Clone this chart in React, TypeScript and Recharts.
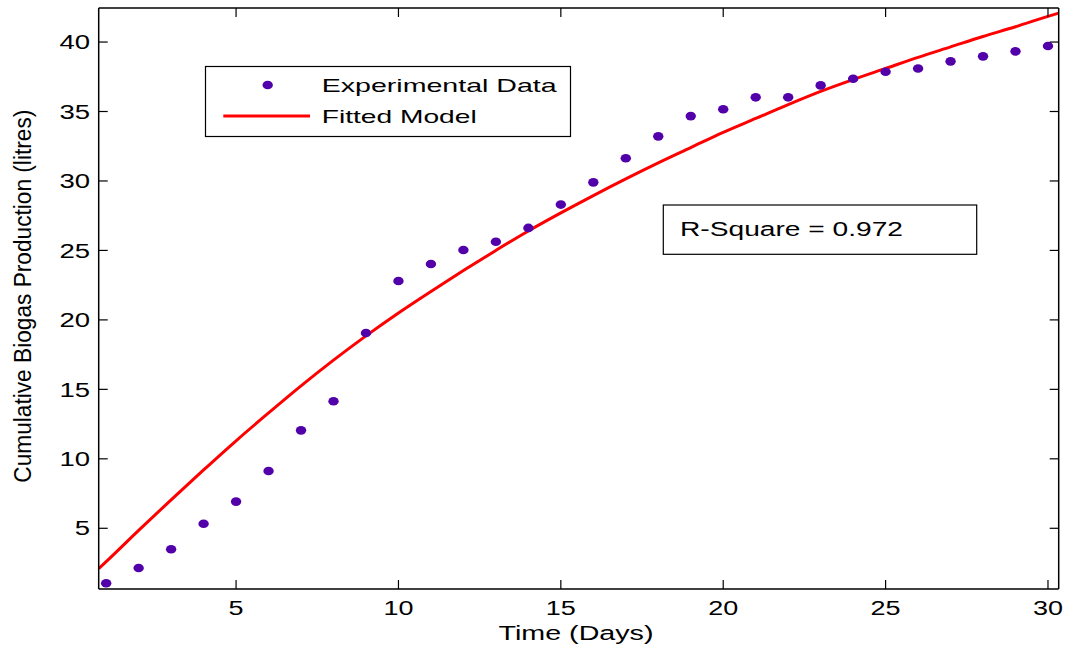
import React from 'react';
import { ComposedChart, Scatter, Line, XAxis, YAxis, Legend, Customized } from 'recharts';

const days = [1, 2, 3, 4, 5, 6, 7, 8, 9, 10, 11, 12, 13, 14, 15, 16, 17, 18, 19, 20, 21, 22, 23, 24, 25, 26, 27, 28, 29, 30];
const experimentalValues = [1.04, 2.14, 3.49, 5.33, 6.92, 9.12, 12.05, 14.14, 19.06, 22.8, 24.02, 25.03, 25.63, 26.62, 28.3, 29.9, 31.63, 33.21, 34.67, 35.16, 36.02, 36.02, 36.88, 37.36, 37.86, 38.1, 38.61, 38.97, 39.33, 39.71];

const fitDays = [0.77, 1, 2, 3, 4, 5, 6, 7, 8, 9, 10, 11, 12, 13, 14, 15, 16, 17, 18, 19, 20, 21, 22, 23, 24, 25, 26, 27, 28, 29, 30, 30.33];
const fitValues = [2.1, 2.6, 4.85, 7.05, 9.2, 11.3, 13.3, 15.25, 17.1, 18.85, 20.5, 22.05, 23.55, 25.0, 26.4, 27.7, 28.95, 30.15, 31.3, 32.4, 33.5, 34.5, 35.5, 36.45, 37.3, 38.1, 38.9, 39.65, 40.4, 41.1, 41.85, 42.08];

const xTicks = [5, 10, 15, 20, 25, 30];
const yTicks = [5, 10, 15, 20, 25, 30, 35, 40];

const experimentalData = days.map((d, i) => ({ x: d, y: experimentalValues[i] }));
const fitData = fitDays.map((d, i) => ({ x: d, y: fitValues[i] }));

const FONT = '"Liberation Sans", Arial, Helvetica, sans-serif';
const TICK_LEN = 9;
const DOT_COLOR = '#5200aa';
const LINE_COLOR = '#ff0000';

const BottomTick = (props: any) => {
  const { x, y, payload } = props;
  const label = String(payload.value);
  return (
    <g>
      <line x1={x} x2={x} y1={y} y2={y - TICK_LEN} stroke="#000" strokeWidth={1.2} />
      <text x={x} y={y + 26} textAnchor="middle" fontSize={20.5} fontFamily={FONT} fill="#000"
        textLength={15 * label.length} lengthAdjust="spacingAndGlyphs">{label}</text>
    </g>
  );
};

const TopTick = (props: any) => {
  const { x, y } = props;
  return <line x1={x} x2={x} y1={y} y2={y + TICK_LEN} stroke="#000" strokeWidth={1.2} />;
};

const LeftTick = (props: any) => {
  const { x, y, payload } = props;
  const label = String(payload.value);
  return (
    <g>
      <line x1={x} x2={x + TICK_LEN} y1={y} y2={y} stroke="#000" strokeWidth={1.2} />
      <text x={x - 8.7} y={y + 7.2} textAnchor="end" fontSize={20} fontFamily={FONT} fill="#000"
        textLength={15.3 * label.length} lengthAdjust="spacingAndGlyphs">{label}</text>
    </g>
  );
};

const RightTick = (props: any) => {
  const { x, y } = props;
  return <line x1={x} x2={x - TICK_LEN} y1={y} y2={y} stroke="#000" strokeWidth={1.2} />;
};

const DotShape = (props: any) => {
  const { cx, cy } = props;
  if (cx == null || cy == null) return null;
  return <ellipse cx={cx} cy={cy} rx={5.2} ry={4.3} fill={DOT_COLOR} />;
};

const LegendBox = () => (
  <svg width={366} height={71} style={{ display: 'block', overflow: 'visible' }}>
    <rect x={0.5} y={0.5} width={365} height={70} fill="#fff" stroke="#000" strokeWidth={1.2} />
    <ellipse cx={62.7} cy={19} rx={5.2} ry={4.3} fill={DOT_COLOR} />
    <text x={116.7} y={25.6} fontSize={18.5} fontFamily={FONT} fill="#000" textLength={235} lengthAdjust="spacingAndGlyphs">Experimental Data</text>
    <line x1={18.3} x2={105} y1={50} y2={50} stroke={LINE_COLOR} strokeWidth={3} />
    <text x={116.7} y={56.6} fontSize={18.5} fontFamily={FONT} fill="#000" textLength={155} lengthAdjust="spacingAndGlyphs">Fitted Model</text>
  </svg>
);

const Annotations = () => (
  <g>
    <rect x={663.3} y={205} width={313.4} height={49.3} fill="#fff" stroke="#000" strokeWidth={1.2} />
    <text x={680} y={235.7} fontSize={20.5} fontFamily={FONT} fill="#000" textLength={223} lengthAdjust="spacingAndGlyphs">R-Square = 0.972</text>
    <text x={576} y={640} textAnchor="middle" fontSize={20.5} fontFamily={FONT} fill="#000" textLength={155} lengthAdjust="spacingAndGlyphs">Time (Days)</text>
    <text transform="translate(30.7,296.2) rotate(-90)" textAnchor="middle" fontSize={23} fontFamily={FONT} fill="#000" textLength={373} lengthAdjust="spacingAndGlyphs">Cumulative Biogas Production (litres)</text>
  </g>
);

export default function App() {
  return (
    <div style={{ position: 'absolute', left: 0, top: 0, width: 1070, height: 653, background: '#fff' }}>
      <ComposedChart width={1070} height={653} margin={{ top: 7, right: 10, bottom: 0, left: 0 }}>
        <XAxis xAxisId="b" dataKey="x" type="number" orientation="bottom" domain={[0.77, 30.33]} allowDataOverflow
          ticks={xTicks} interval={0} height={64} tickSize={0} tickMargin={0} tick={<BottomTick />}
          axisLine={{ stroke: '#000', strokeWidth: 1.5 }} tickLine={false} />
        <XAxis xAxisId="t" dataKey="x" type="number" orientation="top" domain={[0.77, 30.33]} allowDataOverflow
          ticks={xTicks} interval={0} height={1} tickSize={0} tickMargin={0} tick={<TopTick />}
          axisLine={{ stroke: '#000', strokeWidth: 1.5 }} tickLine={false} />
        <YAxis yAxisId="l" type="number" orientation="left" domain={[0.63, 42.45]} allowDataOverflow
          ticks={yTicks} interval={0} width={98.7} tickSize={0} tickMargin={0} tick={<LeftTick />}
          axisLine={{ stroke: '#000', strokeWidth: 1.5 }} tickLine={false} />
        <YAxis yAxisId="r" type="number" orientation="right" domain={[0.63, 42.45]} allowDataOverflow
          ticks={yTicks} interval={0} width={1.3} tickSize={0} tickMargin={0} tick={<RightTick />}
          axisLine={{ stroke: '#000', strokeWidth: 1.5 }} tickLine={false} />
        <Line xAxisId="b" yAxisId="l" data={fitData} dataKey="y" name="Fitted Model" type="monotone"
          stroke={LINE_COLOR} strokeWidth={3} dot={false} activeDot={false} isAnimationActive={false} />
        <Scatter xAxisId="b" yAxisId="l" data={experimentalData} dataKey="y" name="Experimental Data"
          fill={DOT_COLOR} shape={<DotShape />} isAnimationActive={false} />
        <Legend layout="vertical" align="center" verticalAlign="middle" content={<LegendBox />}
          wrapperStyle={{ position: 'absolute', left: 205, top: 66.2, width: 366, height: 71 }} />
        <Customized component={<Annotations />} />
      </ComposedChart>
    </div>
  );
}
